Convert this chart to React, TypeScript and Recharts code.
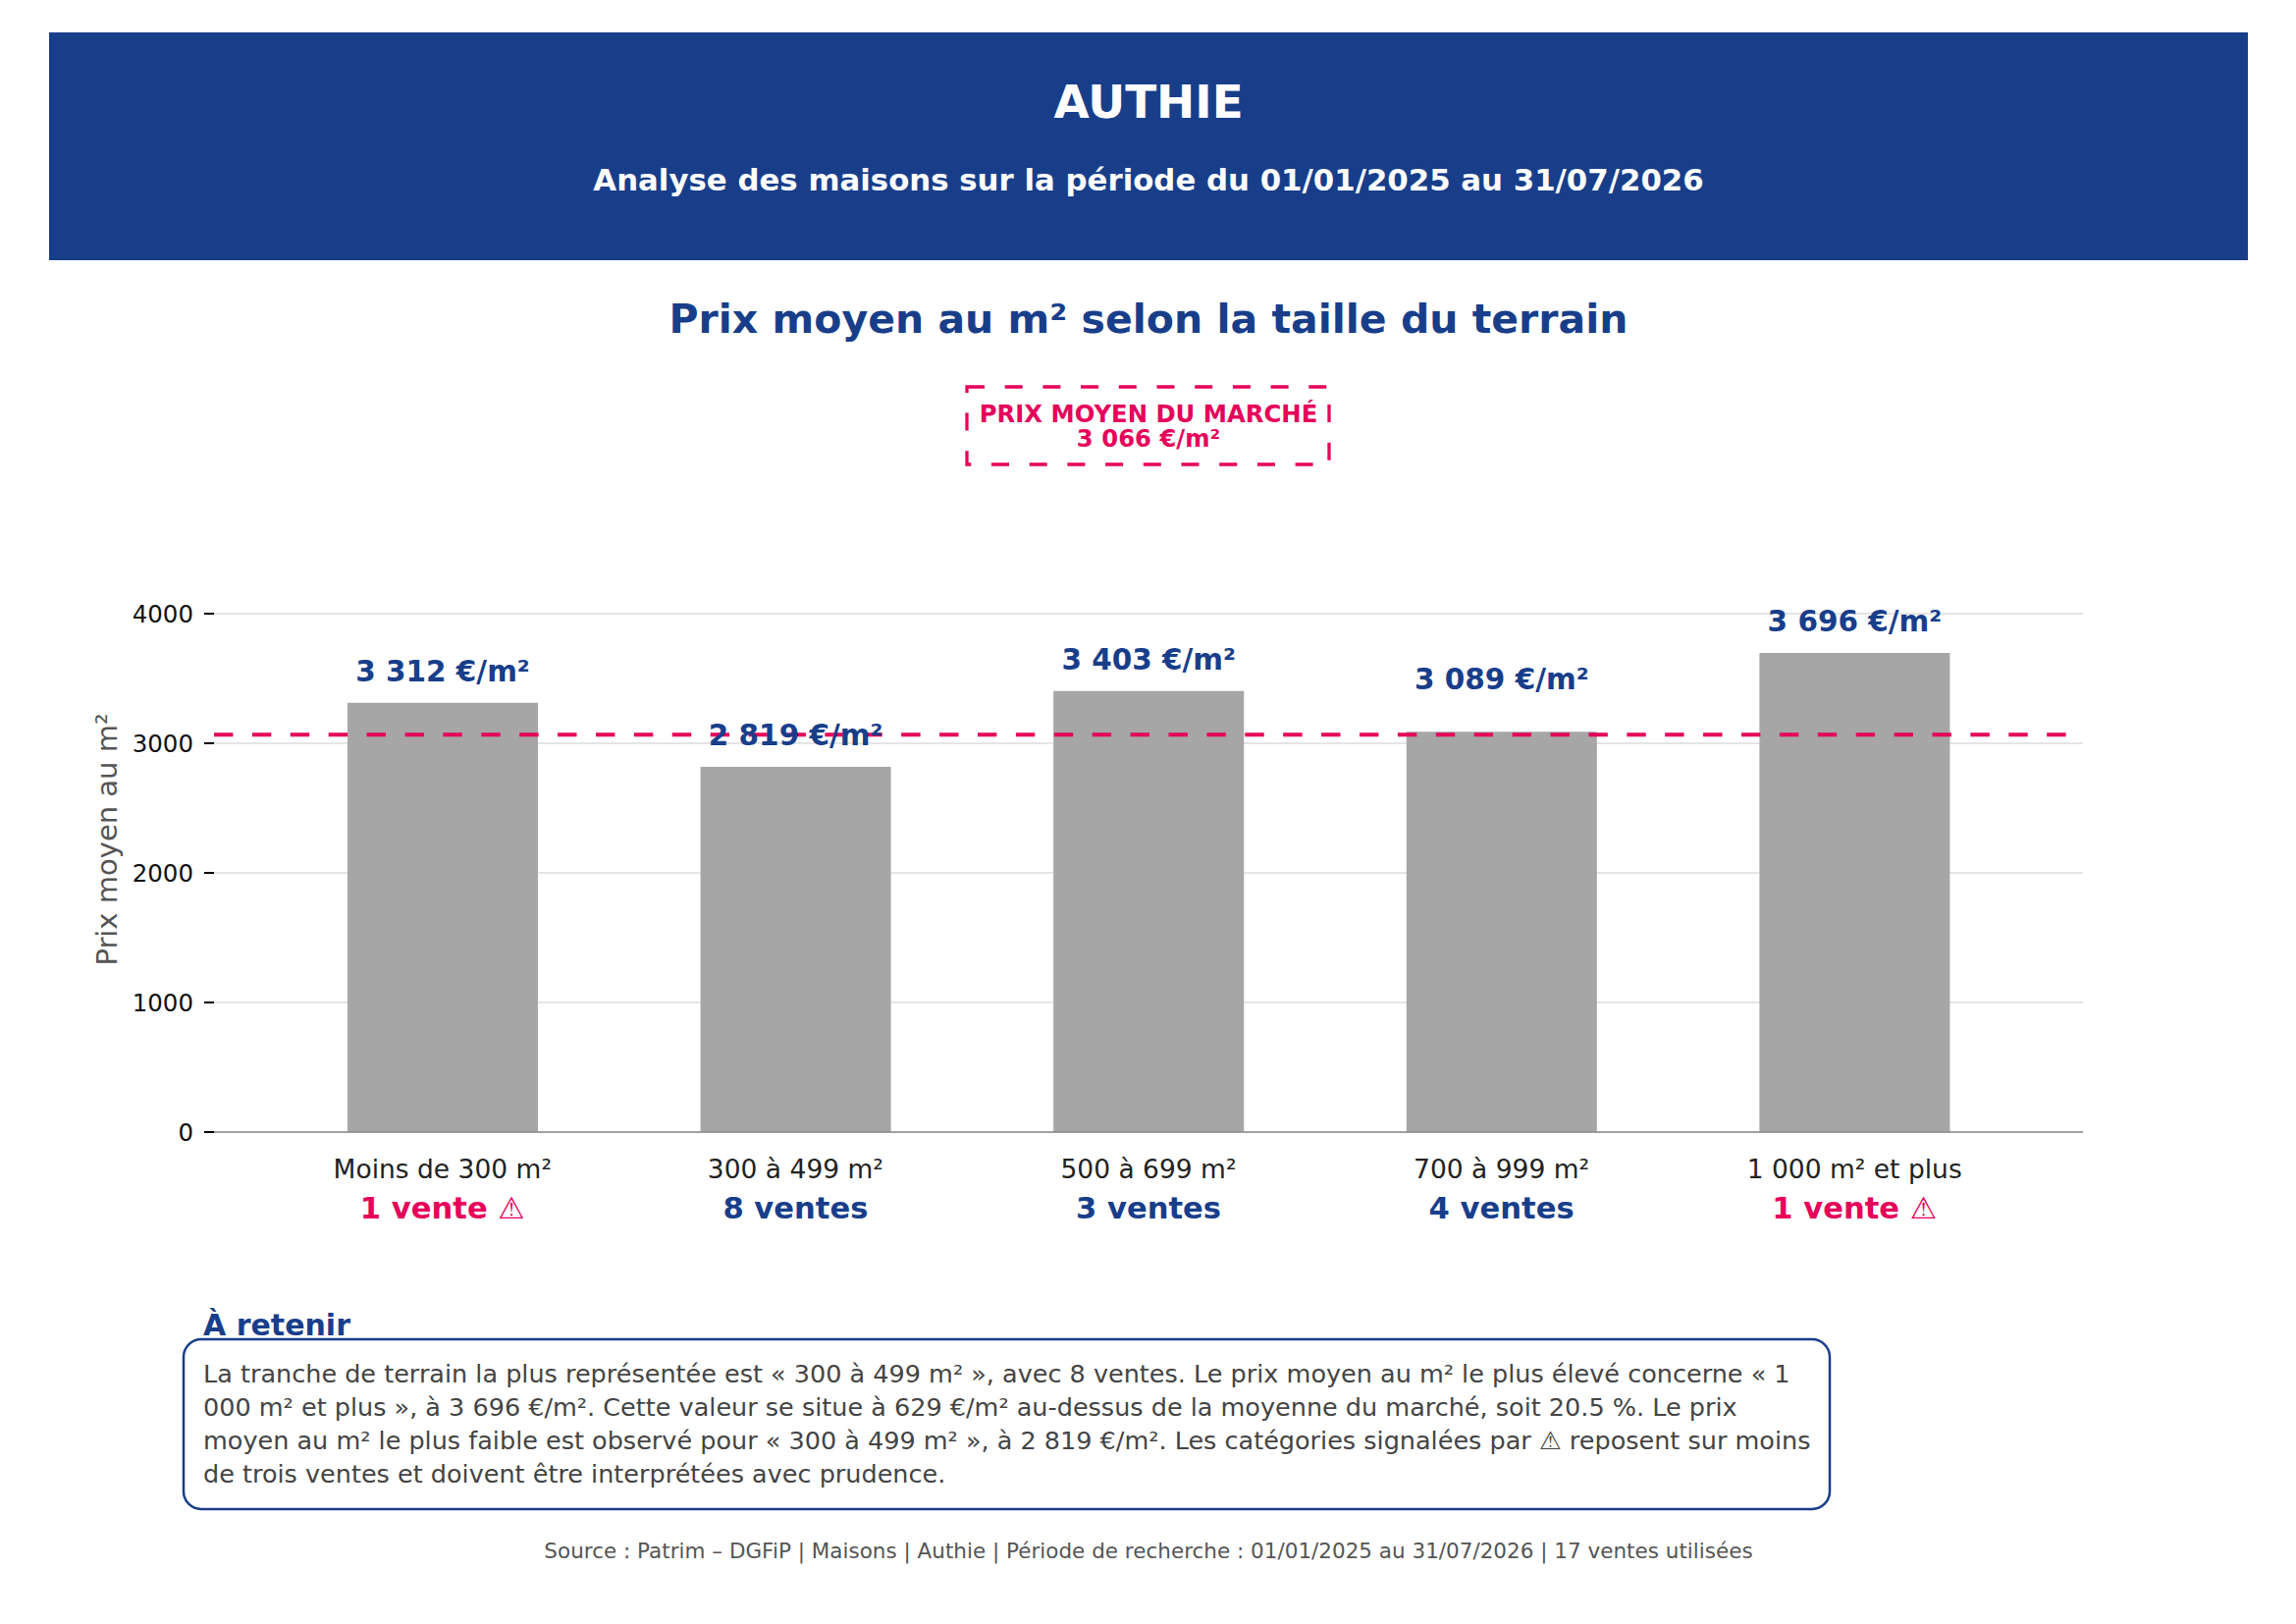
import React from "react";
import {
  BarChart,
  Bar,
  XAxis,
  YAxis,
  CartesianGrid,
  ReferenceLine,
  LabelList,
} from "recharts";

const categories = [
  "Moins de 300 m²",
  "300 à 499 m²",
  "500 à 699 m²",
  "700 à 999 m²",
  "1 000 m² et plus",
];
const prices = [3312, 2819, 3403, 3089, 3696];
const salesCounts = [1, 8, 3, 4, 1];
const marketAverage = 3066;
const yTicks = [0, 1000, 2000, 3000, 4000];
const yMax = 4515;

const summaryLines = [
  "La tranche de terrain la plus représentée est « 300 à 499 m² », avec 8 ventes. Le prix moyen au m² le plus élevé concerne « 1",
  "000 m² et plus », à 3 696 €/m². Cette valeur se situe à 629 €/m² au-dessus de la moyenne du marché, soit 20.5 %. Le prix",
  "moyen au m² le plus faible est observé pour « 300 à 499 m² », à 2 819 €/m². Les catégories signalées par ⚠ reposent sur moins",
  "de trois ventes et doivent être interprétées avec prudence.",
];

const BLUE = "#183E8A";
const PINK = "#E5005A";
const FONT = "'DejaVu Sans', sans-serif";
const CX = 1170;

const formatPrice = (v: number) =>
  String(Math.round(v)).replace(/\B(?=(\d{3})+(?!\d))/g, " ");

const salesLabel = (n: number) =>
  `${n} vente${n > 1 ? "s" : ""}${n < 3 ? " ⚠" : ""}`;

const data = categories.map((name, i) => ({
  name,
  price: prices[i],
  count: salesCounts[i],
}));

function CategoryTick(props: any) {
  const { x, y, payload } = props;
  const idx = categories.indexOf(payload.value);
  const n = salesCounts[idx];
  return (
    <g transform={`translate(${x},${y})`}>
      <text x={0} y={47} textAnchor="middle" fill="#222" fontSize={26.5} fontFamily={FONT}>
        {payload.value}
      </text>
      <text
        x={0}
        y={88}
        textAnchor="middle"
        fill={n < 3 ? PINK : BLUE}
        fontSize={30.6}
        fontWeight="bold"
        fontFamily={FONT}
      >
        {salesLabel(n)}
      </text>
    </g>
  );
}

function ValueLabel(props: any) {
  const x = Number(props.x);
  const y = Number(props.y);
  const width = Number(props.width);
  const v = Number(props.value);
  // labels sitting right on the average line are pushed above it
  const lift = Math.abs(v - marketAverage) < marketAverage * 0.02 ? 21 : 0;
  return (
    <text
      x={x + width / 2}
      y={y - 22 - lift}
      textAnchor="middle"
      fill={BLUE}
      fontSize={29.5}
      fontWeight="bold"
      fontFamily={FONT}
    >
      {`${formatPrice(v)} €/m²`}
    </text>
  );
}

export default function App() {
  return (
    <div
      style={{
        position: "absolute",
        left: 0,
        top: 0,
        width: 2339,
        height: 1654,
        background: "#fff",
        fontFamily: FONT,
      }}
    >
      <div style={{ position: "absolute", left: 0, top: 0 }}>
        <BarChart
          width={2339}
          height={1654}
          data={data}
          margin={{ top: 557, right: 217, bottom: 401, left: 118 }}
        >
          <CartesianGrid
            vertical={false}
            horizontalValues={yTicks}
            stroke="#E5E5E5"
            strokeWidth={2}
          />
          <XAxis
            dataKey="name"
            height={100}
            interval={0}
            padding={{ left: 53, right: 53 }}
            axisLine={{ stroke: "#888", strokeWidth: 1.5 }}
            tickLine={false}
            tickSize={0}
            tickMargin={0}
            tick={<CategoryTick />}
          />
          <YAxis
            type="number"
            domain={[0, yMax]}
            ticks={yTicks}
            interval={0}
            width={100}
            axisLine={false}
            tickLine={{ stroke: "#000", strokeWidth: 2 }}
            tickSize={10}
            tickMargin={11}
            tick={{ fill: "#111", fontSize: 24.5, fontFamily: FONT }}
          />
          <Bar dataKey="price" fill="#A6A6A6" barSize={194} isAnimationActive={false}>
            <LabelList dataKey="price" content={ValueLabel} />
          </Bar>
          <ReferenceLine
            y={marketAverage}
            stroke={PINK}
            strokeWidth={4}
            strokeDasharray="19.4 19.5"
          />
        </BarChart>
      </div>

      <svg
        width={2339}
        height={1654}
        style={{ position: "absolute", left: 0, top: 0, pointerEvents: "none" }}
        fontFamily={FONT}
      >
        {/* header band */}
        <rect x={50} y={33} width={2240} height={232} fill={BLUE} />
        <text x={CX} y={120} textAnchor="middle" fill="#fff" fontSize={46.8} fontWeight="bold">
          AUTHIE
        </text>
        <text x={CX} y={194} textAnchor="middle" fill="#fff" fontSize={30.8} fontWeight="bold">
          Analyse des maisons sur la période du 01/01/2025 au 31/07/2026
        </text>

        <text x={CX} y={339} textAnchor="middle" fill={BLUE} fontSize={41} fontWeight="bold">
          Prix moyen au m² selon la taille du terrain
        </text>

        {/* market average badge */}
        <rect
          x={985}
          y={394}
          width={369}
          height={79}
          fill="#fff"
          stroke={PINK}
          strokeWidth={3.3}
          strokeDasharray="18 20.7"
        />
        <text x={CX} y={430} textAnchor="middle" fill={PINK} fontSize={24.3} fontWeight="bold">
          PRIX MOYEN DU MARCHÉ
        </text>
        <text x={CX} y={455} textAnchor="middle" fill={PINK} fontSize={24.3} fontWeight="bold">
          {`${formatPrice(marketAverage)} €/m²`}
        </text>

        {/* y axis title */}
        <text
          transform="translate(119,855) rotate(-90)"
          textAnchor="middle"
          fill="#555"
          fontSize={29}
        >
          Prix moyen au m²
        </text>

        {/* summary */}
        <text x={207} y={1360} fill={BLUE} fontSize={30} fontWeight="bold">
          À retenir
        </text>
        <rect
          x={187}
          y={1364}
          width={1677}
          height={173}
          rx={18}
          fill="none"
          stroke={BLUE}
          strokeWidth={2.5}
        />
        {summaryLines.map((line, i) => (
          <text key={i} x={207} y={1408 + i * 34} fill="#444" fontSize={25.5}>
            {line}
          </text>
        ))}

        <text x={CX} y={1587} textAnchor="middle" fill="#555" fontSize={21.5}>
          Source : Patrim – DGFiP | Maisons | Authie | Période de recherche : 01/01/2025 au 31/07/2026 | 17 ventes utilisées
        </text>
      </svg>
    </div>
  );
}
